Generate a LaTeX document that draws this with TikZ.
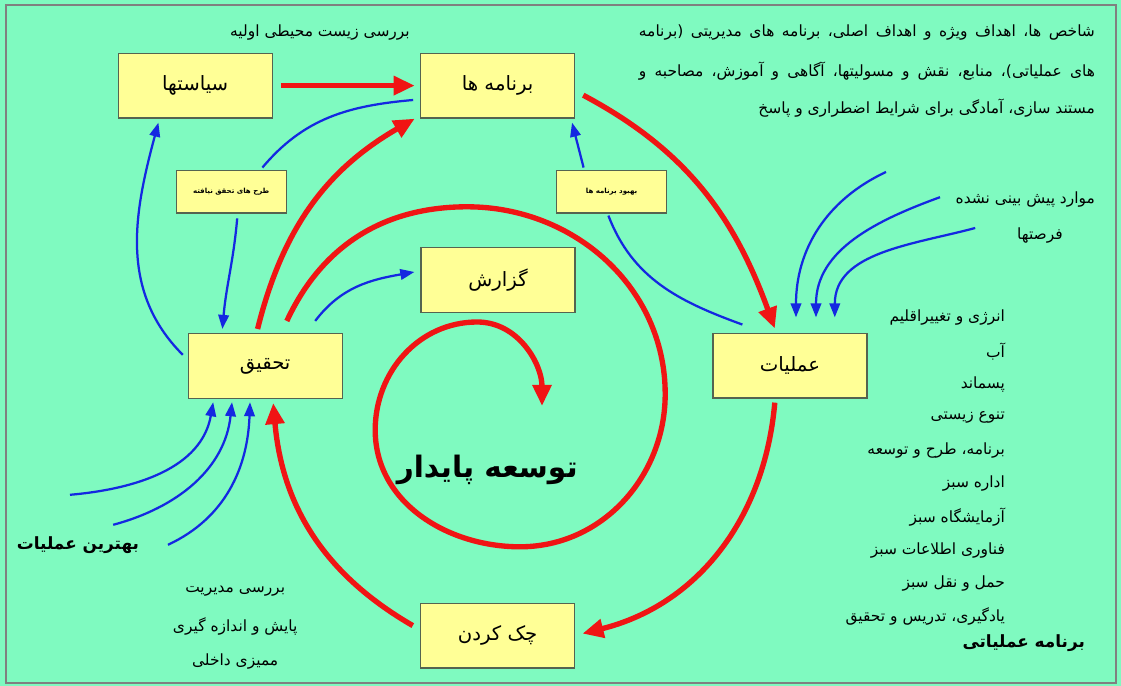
\documentclass[tikz,border=0pt]{standalone}
\usepackage{fontspec}
\usepackage{xcolor}
\usepackage{tikz}
\usetikzlibrary{arrows.meta}
\TeXXeTstate=1
\newfontfamily\farsi[Script=Arabic]{DejaVu Sans}
\newcommand{\fatxt}[1]{\farsi\beginR #1\endR}
\definecolor{bgmint}{RGB}{127,250,192}
\definecolor{boxyellow}{RGB}{255,255,150}
\definecolor{boxedge}{RGB}{85,100,80}
\definecolor{cycred}{RGB}{240,20,20}
\definecolor{flowblue}{RGB}{20,40,225}

\begin{document}
\begin{tikzpicture}[scale=1,
  box/.style={draw=boxedge, line width=0.9pt, fill=boxyellow, minimum width=3.85cm, minimum height=1.62cm, font=\fontsize{14}{16}\selectfont},
  smallbox/.style={draw=boxedge, line width=0.9pt, fill=boxyellow, minimum width=2.75cm, minimum height=1.07cm, font=\fontsize{5}{6}\selectfont\bfseries},
  note/.style={inner sep=0pt, font=\fontsize{11}{13}\selectfont},
  redarrow/.style={draw=cycred, line width=3.8pt, -{Triangle[length=15pt,width=13pt]}},
  bluearrow/.style={draw=flowblue, line width=1.6pt, -{Triangle[length=10pt,width=7.5pt]}},
  blueline/.style={draw=flowblue, line width=1.6pt}]

% Background and frame
\useasboundingbox (0,0) rectangle (28.025,17.15);
\fill[bgmint] (0,0) rectangle (28.025,17.15);
\draw[gray, line width=1.2pt] (0.15,0.08) rectangle (27.9,17.03);

% Boxes
\node[box] (siasat) at (4.88,15.01) {\fatxt{سیاستها}};
\node[box] (barname) at (12.44,15.01) {\fatxt{برنامه ها}};
\node[smallbox] (tarh) at (5.78,12.36) {\fatxt{طرح های تحقق نیافته}};
\node[smallbox] (behbud) at (15.29,12.36) {\fatxt{بهبود برنامه ها}};
\node[box] (gozaresh) at (12.45,10.15) {\fatxt{گزارش}};
\node[box] (tahghigh) at (6.63,8.0) {\fatxt{تحقیق}};
\node[box] (amaliat) at (19.75,8.01) {\fatxt{عملیات}};
\node[box] (check) at (12.44,1.26) {\fatxt{چک کردن}};

% Texts
\node[note] (baresi) at (8.0,16.33) {\fatxt{بررسی زیست محیطی اولیه}};
\node[note, anchor=east] (shakhes1) at (27.38,16.33) {\makebox[11.4cm][s]{\fatxt{شاخص ها، اهداف ویژه و اهداف اصلی، برنامه های مدیریتی (برنامه}}};
\node[note, anchor=east] (shakhes2) at (27.38,15.38) {\makebox[11.4cm][s]{\fatxt{های عملیاتی)، منابع، نقش و مسولیتها، آگاهی و آموزش، مصاحبه و}}};
\node[note, anchor=east] (shakhes3) at (27.38,14.45) {\fatxt{مستند سازی، آمادگی برای شرایط اضطراری و پاسخ}};
\node[note, anchor=east] (mavared) at (27.38,12.15) {\fatxt{موارد پیش بینی نشده}};
\node[note] (forsat) at (26.0,11.25) {\fatxt{فرصتها}};
\foreach \t [count=\i] in {انرژی و تغییراقلیم, آب, پسماند, تنوع زیستی, برنامه، طرح و توسعه, اداره سبز, آزمایشگاه سبز, فناوری اطلاعات سبز, حمل و نقل سبز, یادگیری، تدریس و تحقیق}
  \node[note, anchor=east] (item\i) at (25.13,{9.2-(\i-1)*0.83}) {\fatxt{\t}};
\node[note, anchor=east, font=\fontsize{12}{14}\selectfont\bfseries] (barnameamal) at (27.13,1.08) {\fatxt{برنامه عملیاتی}};
\node[note, font=\fontsize{12}{14}\selectfont\bfseries] (behtarin) at (1.95,3.53) {\fatxt{بهترین عملیات}};
\node[note] (modiriat) at (5.88,2.38) {\fatxt{بررسی مدیریت}};
\node[note] (payesh) at (5.88,1.48) {\fatxt{پایش و اندازه گیری}};
\node[note] (momayezi) at (5.88,0.6) {\fatxt{ممیزی داخلی}};
\node[inner sep=0pt, font=\fontsize{21}{25}\selectfont\bfseries] (paydar) at (12.18,5.4) {\fatxt{توسعه پایدار}};

% Red cycle
\draw[redarrow] ([xshift=0.2cm]siasat.east) -- ([xshift=-0.13cm]barname.west);
\draw[redarrow] ([shift={(1.75,0.1)}]tahghigh.north west) to[out=76,in=210] ([xshift=-0.13cm]barname.south west);
\draw[redarrow] ([shift={(0.2,-0.24)}]barname.east) to[out=-28,in=110] ([shift={(-0.38,0.1)}]amaliat.north);
\draw[redarrow] ([shift={(-0.38,-0.1)}]amaliat.south) to[out=-95,in=14] ([shift={(0.18,0.05)}]check.east);
\draw[redarrow] ([shift={(-0.18,0.25)}]check.west) to[out=150,in=-85] ([shift={(0.2,-0.1)}]tahghigh.south);

% Spiral
\draw[redarrow] ([shift={(-1.4,0.3)}]tahghigh.north east) to[out=65,in=180] (11.68,11.98) to[out=0,in=90] (16.63,7.3) to[out=-90,in=0] (13.0,3.48) to[out=180,in=-90] (9.38,6.4) to[out=90,in=180] (11.93,9.1) to[out=0,in=90] (13.55,7.0);

% Blue flows
\draw[bluearrow] ([shift={(-0.12,0.28)}]tahghigh.west) to[out=135,in=-105] ([shift={(-0.92,-0.1)}]siasat.south);
\draw[blueline] ([shift={(0.78,0.05)}]tarh.north) to[out=50,in=185] ([shift={(-0.17,-0.36)}]barname.west);
\draw[bluearrow] ([shift={(0.15,-0.12)}]tarh.south) to[out=-95,in=85] ([shift={(-1.07,0.1)}]tahghigh.north);
\draw[bluearrow] ([shift={(1.25,0.3)}]tahghigh.north) to[out=53,in=190] ([shift={(-0.15,0.2)}]gozaresh.west);
\draw[bluearrow] ([shift={(-0.7,0.05)}]behbud.north) -- ([shift={(-0.08,-0.1)}]barname.south east);
\draw[blueline] ([shift={(-0.08,-0.05)}]behbud.south) to[out=-69,in=160] ([shift={(0.75,0.2)}]amaliat.north west);

% Unforeseen inputs
\coordinate (opp1) at (22.15,12.85);
\coordinate (opp2) at (23.5,12.22);
\coordinate (opp3) at (24.38,11.45);
\draw[bluearrow] (opp1) to[out=205,in=90] ([shift={(0.15,0.38)}]amaliat.north);
\draw[bluearrow] (opp2) to[out=200,in=90] ([shift={(0.65,0.38)}]amaliat.north);
\draw[bluearrow] (opp3) to[out=195,in=90] ([shift={(1.12,0.38)}]amaliat.north);

% Best practice inputs
\coordinate (best1) at (1.75,4.78);
\coordinate (best2) at (2.83,4.03);
\coordinate (best3) at (4.2,3.53);
\draw[bluearrow] (best1) to[out=5,in=-100] ([shift={(-1.3,-0.08)}]tahghigh.south);
\draw[bluearrow] (best2) to[out=15,in=-96] ([shift={(-0.83,-0.08)}]tahghigh.south);
\draw[bluearrow] (best3) to[out=25,in=-92] ([shift={(-0.38,-0.08)}]tahghigh.south);

\end{tikzpicture}
\end{document}
